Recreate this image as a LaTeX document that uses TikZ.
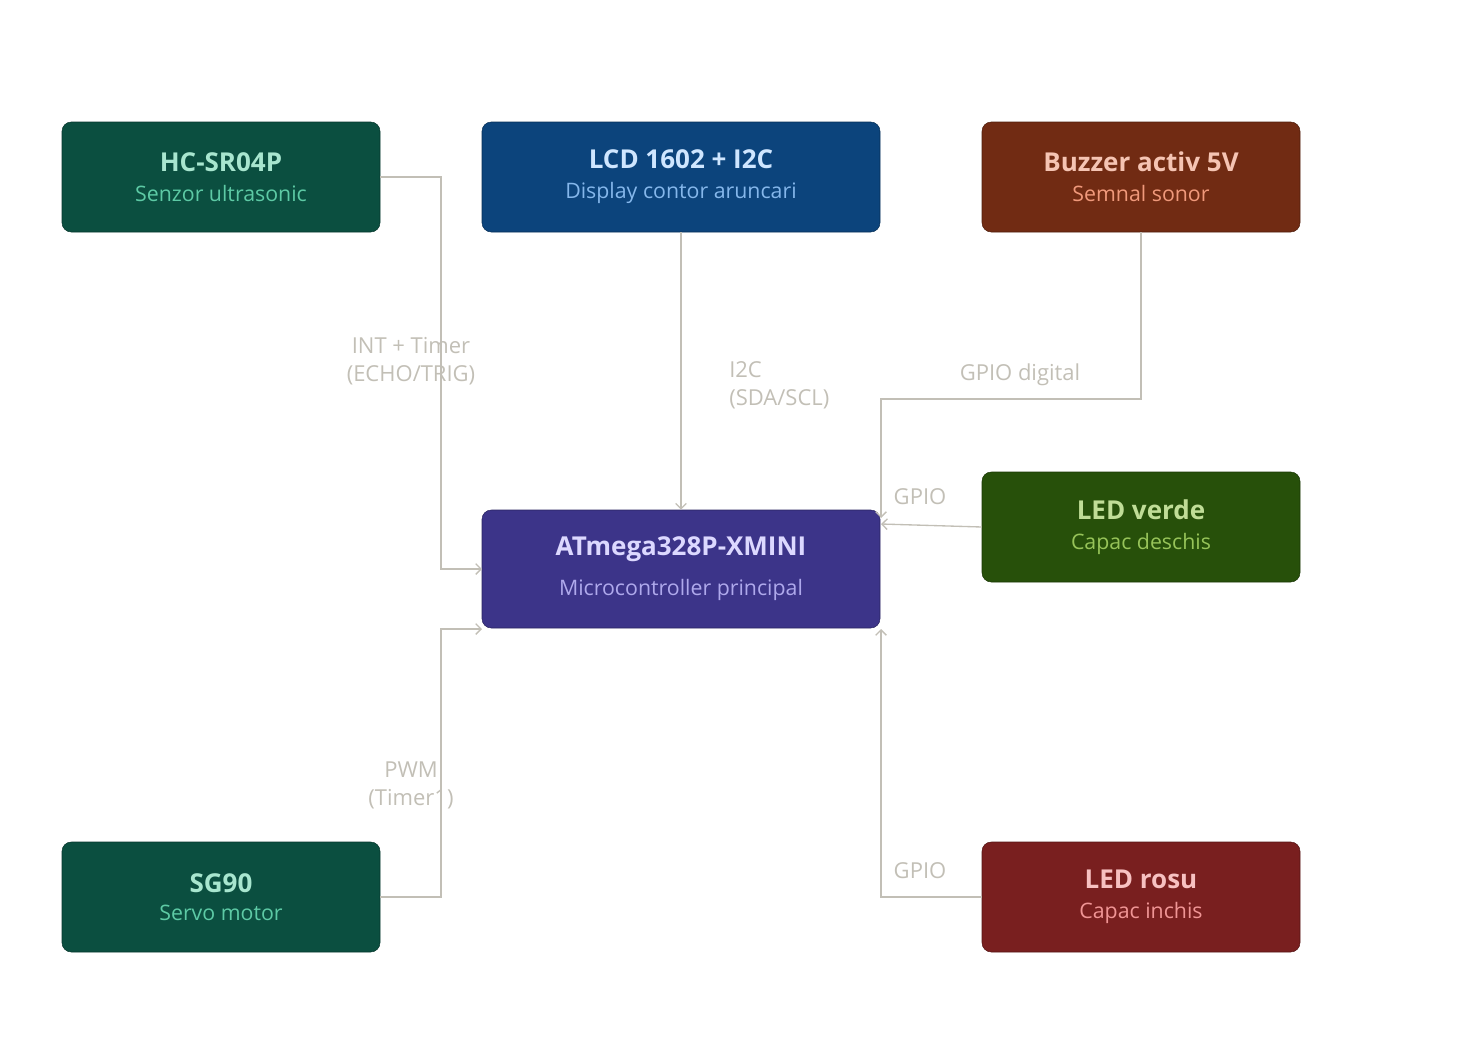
\documentclass[tikz,border=0pt]{standalone}
\usepackage{fontspec}
\setmainfont{Open Sans}
\usetikzlibrary{arrows.meta}
\definecolor{ln}{HTML}{C2BFB6}
\begin{document}
\begin{tikzpicture}[x=0.75pt,y=-0.75pt,
 box/.style={draw=#1!70!black,fill=#1,rounded corners=7pt,minimum width=318*0.75pt,minimum height=110*0.75pt,inner sep=0pt,align=center},
 wide/.style={minimum width=398*0.75pt},
 wire/.style={draw=ln,line width=1pt,-{Straight Barb[length=4pt,width=8pt]}},
 lab/.style={text=ln,font=\fontsize{16.5}{21}\selectfont,align=center,inner sep=0pt}]
\useasboundingbox (0,0) rectangle (1472,1042);
\definecolor{c1}{HTML}{0B4F40}\definecolor{c2}{HTML}{0C447C}\definecolor{c3}{HTML}{712B13}
\definecolor{c4}{HTML}{3C3489}\definecolor{c5}{HTML}{27500A}\definecolor{c6}{HTML}{791F1F}
\newcommand{\myT}[1]{\textbf{\fontsize{19.5}{22}\selectfont #1}}
\newcommand{\myS}[1]{\fontsize{16}{19}\selectfont #1}
\node[box=c1] (hc) at (221,177) {\color[HTML]{A8E6CF}\myT{HC-SR04P}\\[9pt]{\color[HTML]{5DCAA5}\myS{Senzor ultrasonic}}};
\node[box=c2,wide] (lcd) at (681,177) {\color[HTML]{CFE6FF}\myT{LCD 1602 + I2C}\\[9pt]{\color[HTML]{85B7EB}\myS{Display contor aruncari}}};
\node[box=c3] (bz) at (1141,177) {\color[HTML]{F5C4B3}\myT{Buzzer activ 5V}\\[9pt]{\color[HTML]{F0997B}\myS{Semnal sonor}}};
\node[box=c4,wide,minimum height=118*0.75pt] (mc) at (681,569) {\color[HTML]{DCD8FF}\myT{ATmega328P-XMINI}\\[12pt]{\color[HTML]{AFA9EC}\myS{Microcontroller principal}}};
\node[box=c5] (lv) at (1141,527) {\color[HTML]{C0DD97}\myT{LED verde}\\[9pt]{\color[HTML]{97C459}\myS{Capac deschis}}};
\node[box=c1] (sg) at (221,897) {\color[HTML]{A8E6CF}\myT{SG90}\\[9pt]{\color[HTML]{5DCAA5}\myS{Servo motor}}};
\node[box=c6] (lr) at (1141,897) {\color[HTML]{F7C1C1}\myT{LED rosu}\\[9pt]{\color[HTML]{F09595}\myS{Capac inchis}}};
\coordinate (mcA) at (482,569); \coordinate (mcB) at (482,629);
\coordinate (mcC) at (881,518); \coordinate (mcD) at (881,524); \coordinate (mcE) at (881,629);
\draw[wire] (hc.east) -- (441,177) -- (441,569) -- (mcA);
\draw[wire] (sg.east) -- (441,897) -- (441,629) -- (mcB);
\draw[wire] (lcd.south) -- (mc.north);
\draw[wire] (bz.south) -- (1141,399) -- (881,399) -- (mcC);
\draw[wire] (lv.west) -- (mcD);
\draw[wire] (lr.west) -- (881,897) -- (mcE);
\node[lab] (l1) at (411,361) {INT + Timer\\(ECHO/TRIG)};
\node[lab,align=left,anchor=west] (l2) at (729,385) {I2C\\(SDA/SCL)};
\node[lab] (l3) at (1020,375) {GPIO digital};
\node[lab] (l4) at (920,497) {GPIO};
\node[lab] (l5) at (411,785) {PWM\\(Timer1)};
\node[lab] (l6) at (920,871) {GPIO};
\end{tikzpicture}
\end{document}
